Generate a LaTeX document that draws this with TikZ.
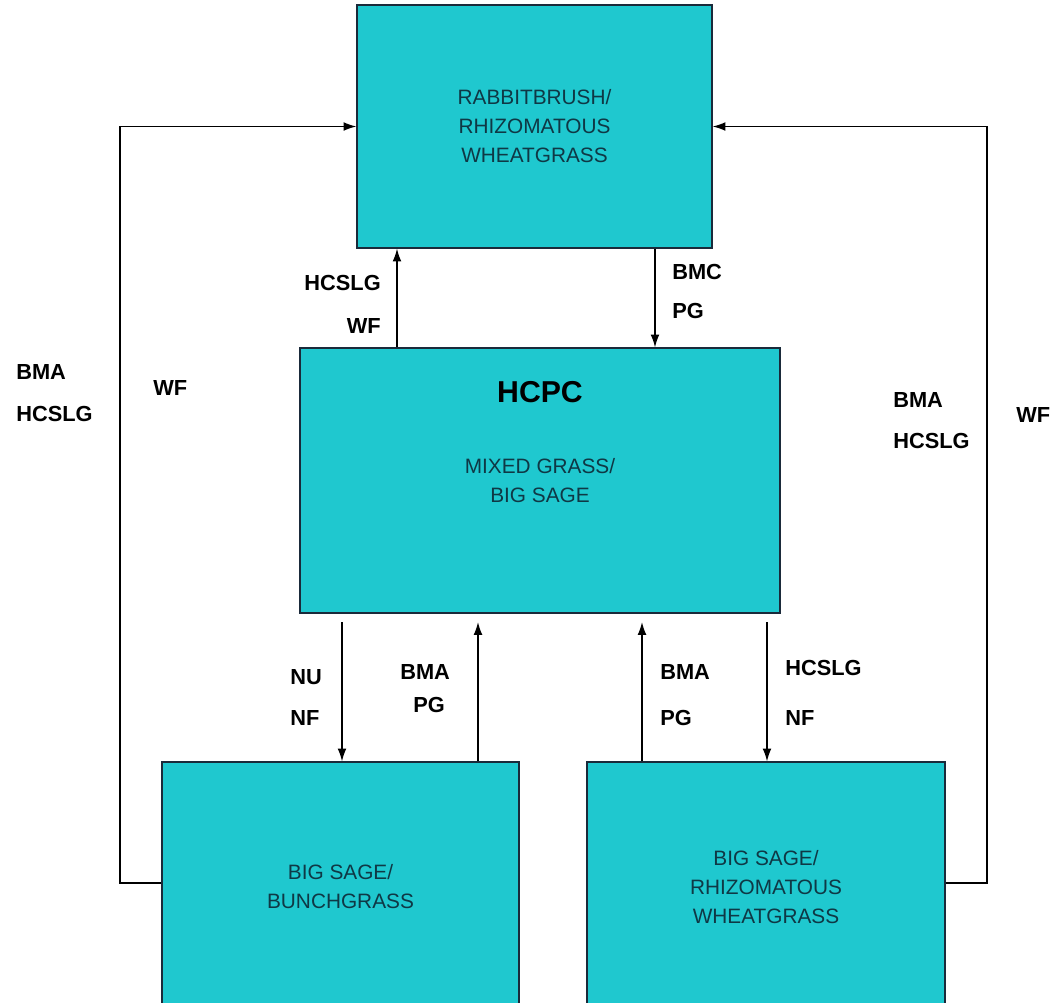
\documentclass[tikz,border=0pt]{standalone}
\usepackage{fontspec}
\setmainfont{Liberation Sans}
\usepackage{tikz}
\usetikzlibrary{arrows.meta,calc}
\definecolor{tuerkis}{HTML}{1FC8CF}
\definecolor{rand}{HTML}{1A2A3A}
\definecolor{boxtext}{HTML}{0F3845}
\tikzset{
  zustand/.style={fill=tuerkis,draw=rand,line width=0.9pt,align=center,text=boxtext,
    font=\fontsize{14.8}{20.6}\selectfont,inner sep=0pt},
  pfeil/.style={-{Latex[length=3.2mm,width=2.2mm]},black,line width=0.85pt},
  marke/.style={font=\fontsize{15.5}{18}\selectfont\bfseries,inner sep=0pt,anchor=west},
}

\begin{document}
\begin{tikzpicture}[x=0.025cm,y=-0.025cm]
  \clip (0,0) rectangle (1053,1002);
  \node[zustand,minimum width=8.875cm,minimum height=6.075cm] (rab) at (534.5,126.5)
    {RABBITBRUSH/\\RHIZOMATOUS\\WHEATGRASS};
  \node[zustand,minimum width=12cm,minimum height=6.625cm] (mid) at (540,480.5)
    {MIXED GRASS/\\BIG SAGE};
  \node[font=\fontsize{21.5}{24}\selectfont\bfseries,text=black,inner sep=0pt] (hcpc) at (540,392) {HCPC};
  \node[zustand,minimum width=8.925cm,minimum height=6.25cm] (bsb) at (340.5,887)
    {BIG SAGE/\\BUNCHGRASS};
  \node[zustand,minimum width=8.95cm,minimum height=6.25cm] (bsr) at (766,887)
    {BIG SAGE/\\RHIZOMATOUS\\WHEATGRASS};
  \path (397,0) coordinate (x1) (655,0) coordinate (x2) (342,0) coordinate (x3)
    (478,0) coordinate (x4) (642,0) coordinate (x5) (767,0) coordinate (x6)
    (120,0) coordinate (xl) (987,0) coordinate (xr);
  \draw[pfeil] (x1 |- mid.north) -- (x1 |- rab.south);
  \draw[pfeil] (x2 |- rab.south) -- (x2 |- mid.north);
  \draw[pfeil,shorten <=6pt] (x3 |- mid.south) -- (x3 |- bsb.north);
  \draw[pfeil,shorten >=6pt] (x4 |- bsb.north) -- (x4 |- mid.south);
  \draw[pfeil,shorten >=6pt] (x5 |- bsr.north) -- (x5 |- mid.south);
  \draw[pfeil,shorten <=6pt] (x6 |- mid.south) -- (x6 |- bsr.north);
  \draw[pfeil] ([yshift=0.1cm]bsb.west) -| (xl |- rab.west) -- (rab.west);
  \draw[pfeil] ([yshift=0.1cm]bsr.east) -| (xr |- rab.east) -- (rab.east);
  \node[marke,anchor=east] (l1) at (381,283) {HCSLG};
  \node[marke,anchor=east] (l2) at (381,326) {WF};
  \node[marke] (l3) at (672,272) {BMC};
  \node[marke] (l4) at (672,311) {PG};
  \node[marke] (l5) at (16,372) {BMA};
  \node[marke] (l6) at (16,414) {HCSLG};
  \node[marke] (l7) at (153,388) {WF};
  \node[marke] (l8) at (893,400) {BMA};
  \node[marke] (l9) at (893,441) {HCSLG};
  \node[marke] (l10) at (1016,415) {WF};
  \node[marke] (l11) at (290,677) {NU};
  \node[marke] (l12) at (290,718) {NF};
  \node[marke] (l13) at (400,672) {BMA};
  \node[marke] (l14) at (413,705) {PG};
  \node[marke] (l15) at (660,672) {BMA};
  \node[marke] (l16) at (660,718) {PG};
  \node[marke] (l17) at (785,668) {HCSLG};
  \node[marke] (l18) at (785,718) {NF};
\end{tikzpicture}
\end{document}
